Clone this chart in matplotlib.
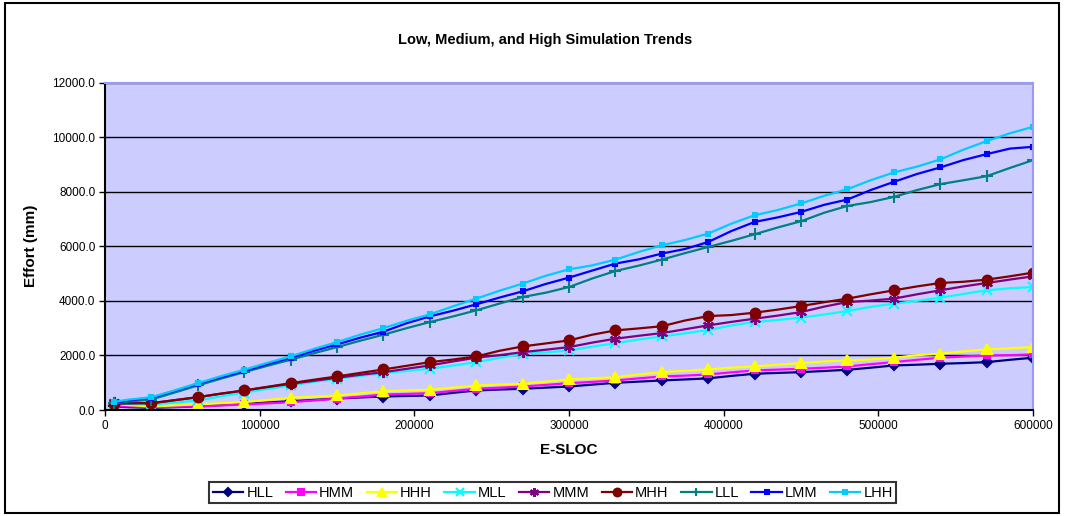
import matplotlib.pyplot as plt
from matplotlib.patches import Rectangle
from matplotlib.ticker import FormatStrFormatter

plt.rcParams['font.family'] = ['Liberation Sans', 'DejaVu Sans']

# E-SLOC sample points (markers sit on every other one)
esloc = [6000, 15000, 30000, 45000, 60000, 75000, 90000, 105000, 120000, 135000,
         150000, 165000, 180000, 195000, 210000, 225000, 240000, 255000, 270000, 285000,
         300000, 315000, 330000, 345000, 360000, 375000, 390000, 405000, 420000, 435000,
         450000, 465000, 480000, 495000, 510000, 525000, 540000, 555000, 570000, 585000,
         600000]

hll = [130, 105, 80, 105, 130, 180, 228, 275, 323, 370, 420, 460, 495, 515, 532, 630,
       716, 750, 778, 820, 862, 930, 998, 1040, 1083, 1120, 1160, 1250, 1329, 1360, 1387,
       1430, 1475, 1550, 1633, 1660, 1695, 1720, 1754, 1840, 1916]
hmm = [165, 135, 105, 118, 130, 165, 205, 245, 286, 350, 420, 490, 569, 590, 617, 700,
       778, 820, 862, 920, 984, 1030, 1083, 1160, 1229, 1260, 1303, 1380, 1450, 1480, 1512,
       1550, 1596, 1680, 1754, 1840, 1916, 1960, 2000, 2010, 2037]
hhh = [230, 180, 130, 170, 210, 250, 290, 370, 448, 490, 532, 610, 690, 720, 741, 820,
       899, 930, 961, 1040, 1119, 1160, 1204, 1300, 1387, 1440, 1486, 1550, 1596, 1660, 1718,
       1780, 1817, 1850, 1916, 2010, 2062, 2150, 2220, 2260, 2305]
mll = [230, 215, 200, 270, 349, 500, 640, 770, 900, 1030, 1145, 1250, 1351, 1430, 1512,
       1630, 1754, 1910, 2062, 2110, 2184, 2320, 2452, 2580, 2697, 2810, 2930, 3100, 3222,
       3300, 3384, 3500, 3626, 3780, 3897, 4000, 4118, 4250, 4386, 4460, 4507]
mmm = [290, 270, 250, 360, 470, 600, 716, 840, 961, 1070, 1182, 1290, 1387, 1510, 1633,
       1780, 1916, 2010, 2121, 2210, 2305, 2470, 2613, 2720, 2818, 2960, 3101, 3230, 3347,
       3460, 3589, 3790, 3956, 4010, 4081, 4240, 4386, 4530, 4654, 4780, 4899]
mhh = [230, 240, 250, 360, 470, 600, 716, 850, 984, 1110, 1229, 1360, 1486, 1620, 1754,
       1850, 1963, 2170, 2330, 2440, 2551, 2760, 2918, 2990, 3070, 3280, 3442, 3480, 3567,
       3680, 3810, 3950, 4081, 4240, 4386, 4530, 4654, 4700, 4778, 4900, 5035]
lll = [240, 310, 385, 640, 899, 1150, 1387, 1620, 1842, 2080, 2305, 2540, 2760, 3000, 3222,
       3430, 3652, 3900, 4140, 4300, 4507, 4820, 5094, 5290, 5512, 5750, 5975, 6200, 6441,
       6690, 6918, 7230, 7479, 7620, 7810, 8060, 8276, 8420, 8569, 8870, 9157]
lmm = [270, 350, 448, 700, 961, 1200, 1424, 1680, 1916, 2170, 2404, 2650, 2870, 3180, 3431,
       3640, 3872, 4120, 4349, 4620, 4852, 5110, 5366, 5520, 5733, 5900, 6158, 6560, 6892,
       7060, 7259, 7520, 7714, 8060, 8360, 8650, 8889, 9160, 9377, 9580, 9645]
lhh = [300, 380, 470, 720, 984, 1240, 1475, 1730, 1963, 2240, 2488, 2760, 3000, 3270, 3505,
       3800, 4081, 4370, 4632, 4920, 5156, 5300, 5512, 5790, 6037, 6230, 6467, 6830, 7138,
       7330, 7568, 7850, 8092, 8420, 8705, 8920, 9182, 9540, 9854, 10140, 10379]

names = ['HLL', 'HMM', 'HHH', 'MLL', 'MMM', 'MHH', 'LLL', 'LMM', 'LHH']
series = [hll, hmm, hhh, mll, mmm, mhh, lll, lmm, lhh]
colors = ['#000080', '#FF00FF', '#FFFF00', '#00FFFF', '#800080',
          '#800000', '#008080', '#0000FF', '#00CCFF']
markers = ['D', 's', '^', 'x', (6, 2, 0), 'o', '+', 's', 's']
msizes = [5, 5, 7, 7, 8, 7, 8, 3.5, 3.5]

fig = plt.figure(figsize=(10.65, 5.16), dpi=100)
fig.patches.append(Rectangle((0.005, 0.006), 0.989, 0.988, transform=fig.transFigure,
                             fill=False, edgecolor='black', linewidth=1.5))

ax = fig.add_axes([0.0986, 0.2054, 0.8714, 0.6346])
ax.set_facecolor('#CCCCFF')

for name, vals, c, mk, ms in zip(names, series, colors, markers, msizes):
    ax.plot(esloc, vals, color=c, linewidth=1.6, marker=mk, markersize=ms,
            markevery=2, markeredgewidth=1.5, label=name)

ax.set_xlim(0, 600000)
ax.set_ylim(0, 12000)
ax.set_xticks(range(0, 600001, 100000))
ax.set_yticks(range(0, 12001, 2000))
ax.yaxis.set_major_formatter(FormatStrFormatter('%.1f'))
ax.xaxis.set_major_formatter(FormatStrFormatter('%d'))
ax.tick_params(labelsize=8.5, direction='out', length=4, width=1, pad=3)
ax.grid(axis='y', color='black', linewidth=1)

for side in ['top', 'right']:
    ax.spines[side].set_color('#9999FF')
    ax.spines[side].set_linewidth(1.5)
for side in ['left', 'bottom']:
    ax.spines[side].set_color('black')
    ax.spines[side].set_linewidth(1.5)

ax.set_xlabel('E-SLOC', fontsize=11, fontweight='bold', labelpad=8)
ax.set_ylabel('Effort (mm)', fontsize=11, fontweight='bold', labelpad=10)
fig.text(0.512, 0.922, 'Low, Medium, and High Simulation Trends',
         ha='center', va='center', fontsize=10.5, fontweight='bold')

leg = fig.legend(loc='center', bbox_to_anchor=(0.519, 0.045), ncol=9, fontsize=10.5,
                 frameon=True, fancybox=False, handlelength=2.1, handletextpad=0.2,
                 columnspacing=0.85, borderpad=0.25, markerscale=0.8)
leg.get_frame().set_edgecolor('black')
leg.get_frame().set_linewidth(1.5)

plt.savefig('out.png', dpi=100)
